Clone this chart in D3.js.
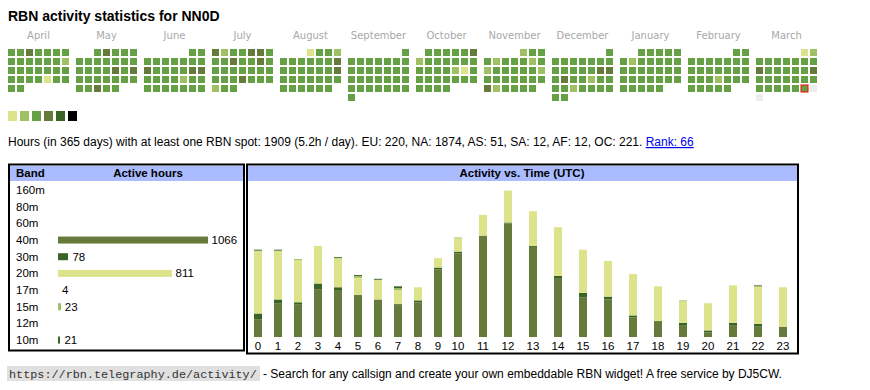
<!DOCTYPE html>
<html>
<head>
<meta charset="utf-8">
<script src="https://cdn.jsdelivr.net/npm/d3@7"></script>
<style>
  body { margin: 0; background: #fff; }
  svg text { font-family: "Liberation Sans", Arial, sans-serif; }
</style>
</head>
<body>
<svg id="chart" width="870" height="390"></svg>
<script>
// calendar: one string per month, day levels in date order (spaces = week breaks)
// 0 = no data yet, 1..6 = activity level
var months = ["April", "May", "June", "July", "August", "September",
    "October", "November", "December", "January", "February", "March"];
var dayLevels = [
    "3343333 3333332 3333333 3333133 33",
    "34333 3333333 3333434 3333333 33433",
    "33 3333333 4333344 3333233 3333333",
    "4233443 3343343 3333333 3334333 233",
    "1332 3333334 3333334 3333333 333333",
    "3 3333333 3333333 3333333 3333333 3",
    "333334 2333333 3333213 3333333 3333",
    "233 3233323 2333332 3333333 423333",
    "3 3333333 3333344 3433233 3323333 33",
    "33333 3233333 3333333 3333333 33333",
    "33 3333333 3333333 3332333 33333",
    "12 3333333 4333334 3333333 333333 0 0"
];
var firstMonth = "2024-04-01";
var today = "2025-03-29";
var levelColors = ["#ececec", "#dde38b", "#a0c064", "#66a044", "#667a3b", "#3a6426", "#000000"];

// band totals
var bands = ["160m", "80m", "60m", "40m", "30m", "20m", "17m", "15m", "12m", "10m"];
var bandHours = [0, 0, 0, 1066, 78, 811, 4, 23, 0, 21];
var bandColors = ["#66a044", "#66a044", "#66a044", "#667a3b", "#3a6426", "#dde38b", "#66a044", "#a0c064", "#66a044", "#3a6426"];

// activity per UTC hour, by band
var hourLabels = ["0", "1", "2", "3", "4", "5", "6", "7", "8", "9", "10", "11",
    "12", "13", "14", "15", "16", "17", "18", "19", "20", "21", "22", "23"];
var h40 = [19, 36, 35, 51, 50, 45, 40, 34, 37, 72, 89, 108, 121, 96, 62, 42, 40, 21, 17, 12, 5, 12, 11, 11];
var h30 = [6, 4, 2, 6, 3, 0, 0, 1, 2, 2, 2, 0, 1, 1, 3, 5, 3, 2, 0, 3, 2, 3, 3, 0];
var h20 = [67, 52, 45, 40, 31, 18, 21, 15, 14, 10, 14, 22, 34, 37, 52, 46, 38, 44, 37, 23, 29, 40, 40, 42];
var h17 = [0, 0, 0, 0, 0, 0, 0, 0, 0, 0, 0, 0, 0, 0, 0, 0, 0, 0, 0, 0, 0, 0, 0, 0];
var h15 = [0, 0, 1, 0, 0, 2, 0, 2, 0, 0, 1, 0, 0, 0, 0, 0, 0, 0, 0, 1, 0, 0, 0, 0];
var h10 = [1, 1, 0, 0, 1, 1, 1, 2, 0, 0, 0, 0, 0, 0, 0, 0, 0, 0, 0, 0, 0, 0, 1, 0];

var summary = "Hours (in 365 days) with at least one RBN spot: 1909 (5.2h / day). EU: 220, NA: 1874, AS: 51, SA: 12, AF: 12, OC: 221. ";
var rankText = "Rank: 66";

var svg = d3.select("#chart");
var fmt = d3.timeFormat("%Y-%m-%d");

svg.append("text")
    .attr("x", 8).attr("y", 20.5)
    .style("font-size", "14px").style("font-weight", "bold")
    .text("RBN activity statistics for NN0D");

/////////////////////////////////////////////////////////////////////////////////////
// calendar
var monthX = d3.scaleBand().domain(months).range([8, 8 + 68 * 12]);
var colX = d3.scaleLinear().domain([0, 6]).range([0, 54]);
var rowY = d3.scaleLinear().domain([0, 5]).range([49, 94]);
var levelColor = d3.scaleOrdinal().domain(d3.range(7)).range(levelColors);

var days = [];
var start0 = d3.timeParse("%Y-%m-%d")(firstMonth);
months.forEach(function (m, i) {
    var start = d3.timeMonth.offset(start0, i);
    var levels = dayLevels[i].replace(/ /g, "");
    d3.timeDays(start, d3.timeMonth.offset(start, 1)).forEach(function (d, j) {
        days.push({
            month: m,
            date: d,
            col: (d.getDay() + 6) % 7,
            row: d3.timeMonday.count(start, d),
            level: +levels[j]
        });
    });
});

svg.append("g").selectAll("text")
    .data(months)
    .enter().append("text")
    .attr("x", function (m) { return monthX(m) + 30.5; })
    .attr("y", 39)
    .attr("text-anchor", "middle")
    .style("font-family", "'DejaVu Sans', Verdana, sans-serif")
    .style("font-size", "10px")
    .attr("fill", "#a8a8a8")
    .text(function (m) { return m; });

svg.append("g").selectAll("rect")
    .data(days)
    .enter().append("rect")
    .attr("x", function (d) { return monthX(d.month) + colX(d.col); })
    .attr("y", function (d) { return rowY(d.row); })
    .attr("width", 7).attr("height", 7)
    .attr("fill", function (d) { return levelColor(d.level); })
    .attr("stroke", function (d) { return fmt(d.date) === today ? "#ff0000" : "none"; })
    .attr("stroke-width", 1);

// legend
var legendX = d3.scaleLinear().domain([1, 6]).range([8, 68]);
svg.append("g").selectAll("rect")
    .data(d3.range(1, 7))
    .enter().append("rect")
    .attr("x", function (l) { return legendX(l); })
    .attr("y", 111)
    .attr("width", 9).attr("height", 10)
    .attr("fill", function (l) { return levelColor(l); });

var para = svg.append("text").attr("x", 8).attr("y", 146).style("font-size", "12px");
para.append("tspan").text(summary);
para.append("tspan").attr("fill", "#0000ee")
    .style("text-decoration", "underline")
    .text(rankText);

/////////////////////////////////////////////////////////////////////////////////////
// band table
svg.append("rect").attr("x", 9).attr("y", 164.5).attr("width", 235).attr("height", 186)
    .attr("fill", "#fff").attr("stroke", "#000").attr("stroke-width", 2);
svg.append("rect").attr("x", 10).attr("y", 166).attr("width", 233).attr("height", 15)
    .attr("fill", "#aabbff");
svg.append("text").attr("x", 16).attr("y", 177)
    .style("font-size", "11.5px").style("font-weight", "bold").text("Band");
svg.append("text").attr("x", 148).attr("y", 177).attr("text-anchor", "middle")
    .style("font-size", "11.5px").style("font-weight", "bold").text("Active hours");

var bandY = d3.scaleBand().domain(bands).range([181.7, 348.4]);
var hoursX = d3.scaleLinear().domain([0, 1066]).range([58, 208]);

var rows = svg.append("g").selectAll("g")
    .data(bands.map(function (b, i) { return {band: b, hours: bandHours[i], color: bandColors[i]}; }))
    .enter().append("g")
    .attr("transform", function (d) { return "translate(0," + (bandY(d.band) + bandY.bandwidth() / 2) + ")"; });

rows.append("text").attr("x", 16).attr("dy", "0.35em")
    .style("font-size", "11.5px").text(function (d) { return d.band; });

rows.filter(function (d) { return d.hours > 0; }).append("rect")
    .attr("x", hoursX(0)).attr("y", -3.5)
    .attr("width", function (d) { return Math.floor(hoursX(d.hours) - hoursX(0)); })
    .attr("height", 7)
    .attr("fill", function (d) { return d.color; });

rows.filter(function (d) { return d.hours > 0; }).append("text")
    .attr("x", function (d) { return hoursX(d.hours) + 3.5; })
    .attr("dy", "0.35em")
    .style("font-size", "11.5px")
    .text(function (d) { return d.hours; });

/////////////////////////////////////////////////////////////////////////////////////
// activity vs time
svg.append("rect").attr("x", 247).attr("y", 164.5).attr("width", 551).attr("height", 189)
    .attr("fill", "#fff").attr("stroke", "#000").attr("stroke-width", 2);
svg.append("rect").attr("x", 248).attr("y", 166).attr("width", 549).attr("height", 15)
    .attr("fill", "#aabbff");
svg.append("text").attr("x", 522).attr("y", 177).attr("text-anchor", "middle")
    .style("font-size", "11.5px").style("font-weight", "bold").text("Activity vs. Time (UTC)");

var stackKeys = ["40m", "30m", "20m", "17m", "15m", "10m"];
var stackColors = ["#667a3b", "#3a6426", "#dde38b", "#66a044", "#a0c064", "#3a6426"];
var hourly = hourLabels.map(function (h, i) {
    return {hour: h, "40m": h40[i], "30m": h30[i], "20m": h20[i], "17m": h17[i], "15m": h15[i], "10m": h10[i]};
});
var series = d3.stack().keys(stackKeys)(hourly);

// one-digit columns are narrower than two-digit ones
var hx = d3.scalePoint().domain(hourLabels).range([0, 23]);
var px = d3.scaleLinear().domain([0, 10, 23]).range([258, 458, 783]);
var hy = d3.scaleLinear().domain([0, 160]).range([337, 186.8]);
var color = d3.scaleOrdinal().domain(stackKeys).range(stackColors);

svg.append("g").selectAll("g")
    .data(series)
    .enter().append("g")
    .attr("fill", function (s) { return color(s.key); })
    .selectAll("rect")
    .data(function (s) { return s.filter(function (d) { return d[1] > d[0]; }); })
    .enter().append("rect")
    .attr("x", function (d) { return px(hx(d.data.hour)) - 4; })
    .attr("y", function (d) { return hy(d[1]); })
    .attr("width", 8)
    .attr("height", function (d) { return hy(d[0]) - hy(d[1]); });

var axis = svg.append("g")
    .attr("transform", "translate(0,337)")
    .call(d3.axisBottom(d3.scalePoint().domain(hourLabels).range([px(0), px(23)]))
        .tickSize(0).tickPadding(5));
axis.select(".domain").remove();
axis.selectAll(".tick").attr("transform", function (h) { return "translate(" + px(hx(h)) + ",0)"; });
axis.selectAll("text")
    .style("font-family", "'Liberation Sans', Arial, sans-serif")
    .style("font-size", "11.5px")
    .attr("fill", "#000");

/////////////////////////////////////////////////////////////////////////////////////
// footer
svg.append("rect").attr("x", 7).attr("y", 366).attr("width", 253).attr("height", 15).attr("fill", "#e0e0e0");
svg.append("text").attr("x", 9).attr("y", 378)
    .style("font-family", "'Liberation Mono', 'Courier New', monospace")
    .style("font-size", "11.8px").attr("fill", "#333")
    .text("https://rbn.telegraphy.de/activity/");
svg.append("text").attr("x", 263).attr("y", 378)
    .style("font-size", "12px")
    .text("- Search for any callsign and create your own embeddable RBN widget! A free service by DJ5CW.");
</script>
</body>
</html>
